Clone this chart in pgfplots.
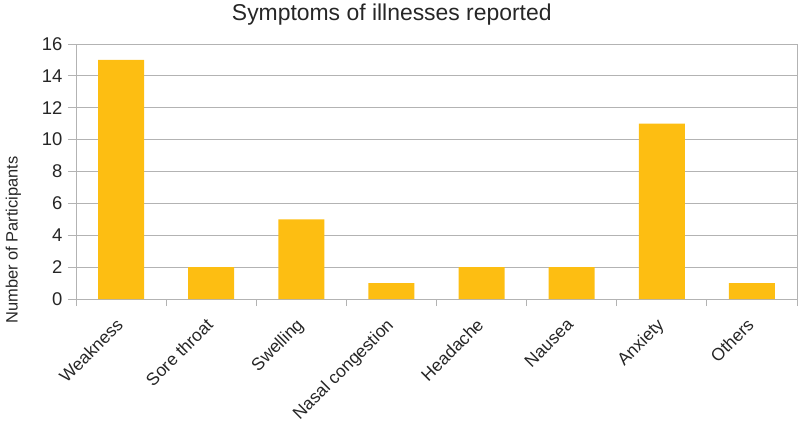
\documentclass[border=0pt]{standalone}
\usepackage{fontspec}
\setmainfont{Liberation Sans}
\usepackage{pgfplots}
\pgfplotsset{compat=1.18}
\definecolor{baryellow}{RGB}{253,190,18}
\definecolor{gridgray}{RGB}{179,179,179}
\begin{document}
\begin{tikzpicture}
\begin{axis}[
  scale only axis,
  width=721bp, height=255bp,
  xmin=-0.5, xmax=7.5, ymin=0, ymax=16,
  ytick={0,2,...,16},
  xtick={0,...,7},
  xticklabels={Weakness,Sore throat,Swelling,Nasal congestion,Headache,Nausea,Anxiety,Others},
  minor xtick={-0.5,0.5,...,7.5},
  major x tick style={draw=none},
  tick align=outside,
  major tick length=8bp,
  minor tick length=7bp,
  tick style={gridgray, line width=0.8pt},
  ytick pos=left, xtick pos=bottom,
  ymajorgrids,
  grid style={gridgray, line width=0.8pt},
  axis line style={gridgray, line width=0.8pt},
  /pgf/number format/assume math mode=true,
  yticklabel style={font=\fontsize{18.5}{18.5}\selectfont, text=black!85, xshift=-2bp},
  xticklabel style={font=\fontsize{17.5}{17.5}\selectfont, text=black!85, xshift=-6bp, yshift=-8.5bp, rotate=45, anchor=north east, inner sep=1pt},
  ylabel={Number of Participants},
  ylabel style={font=\fontsize{16.5}{16.5}\selectfont, text=black!85, at={(ticklabel cs:0.231)}, yshift=14bp},
  title={Symptoms of illnesses reported},
  title style={font=\fontsize{23}{23}\selectfont, text=black!85, at={(0.438,1)}, anchor=south, yshift=9bp},
]
\addplot[ybar, bar width=46bp, fill=baryellow, draw=none] coordinates {
  (0,15) (1,2) (2,5) (3,1) (4,2) (5,2) (6,11) (7,1)
};
\end{axis}
\useasboundingbox ([xshift=-76bp,yshift=-124bp]current axis.south west) rectangle ([xshift=3bp,yshift=44bp]current axis.north east);
\end{tikzpicture}
\end{document}
